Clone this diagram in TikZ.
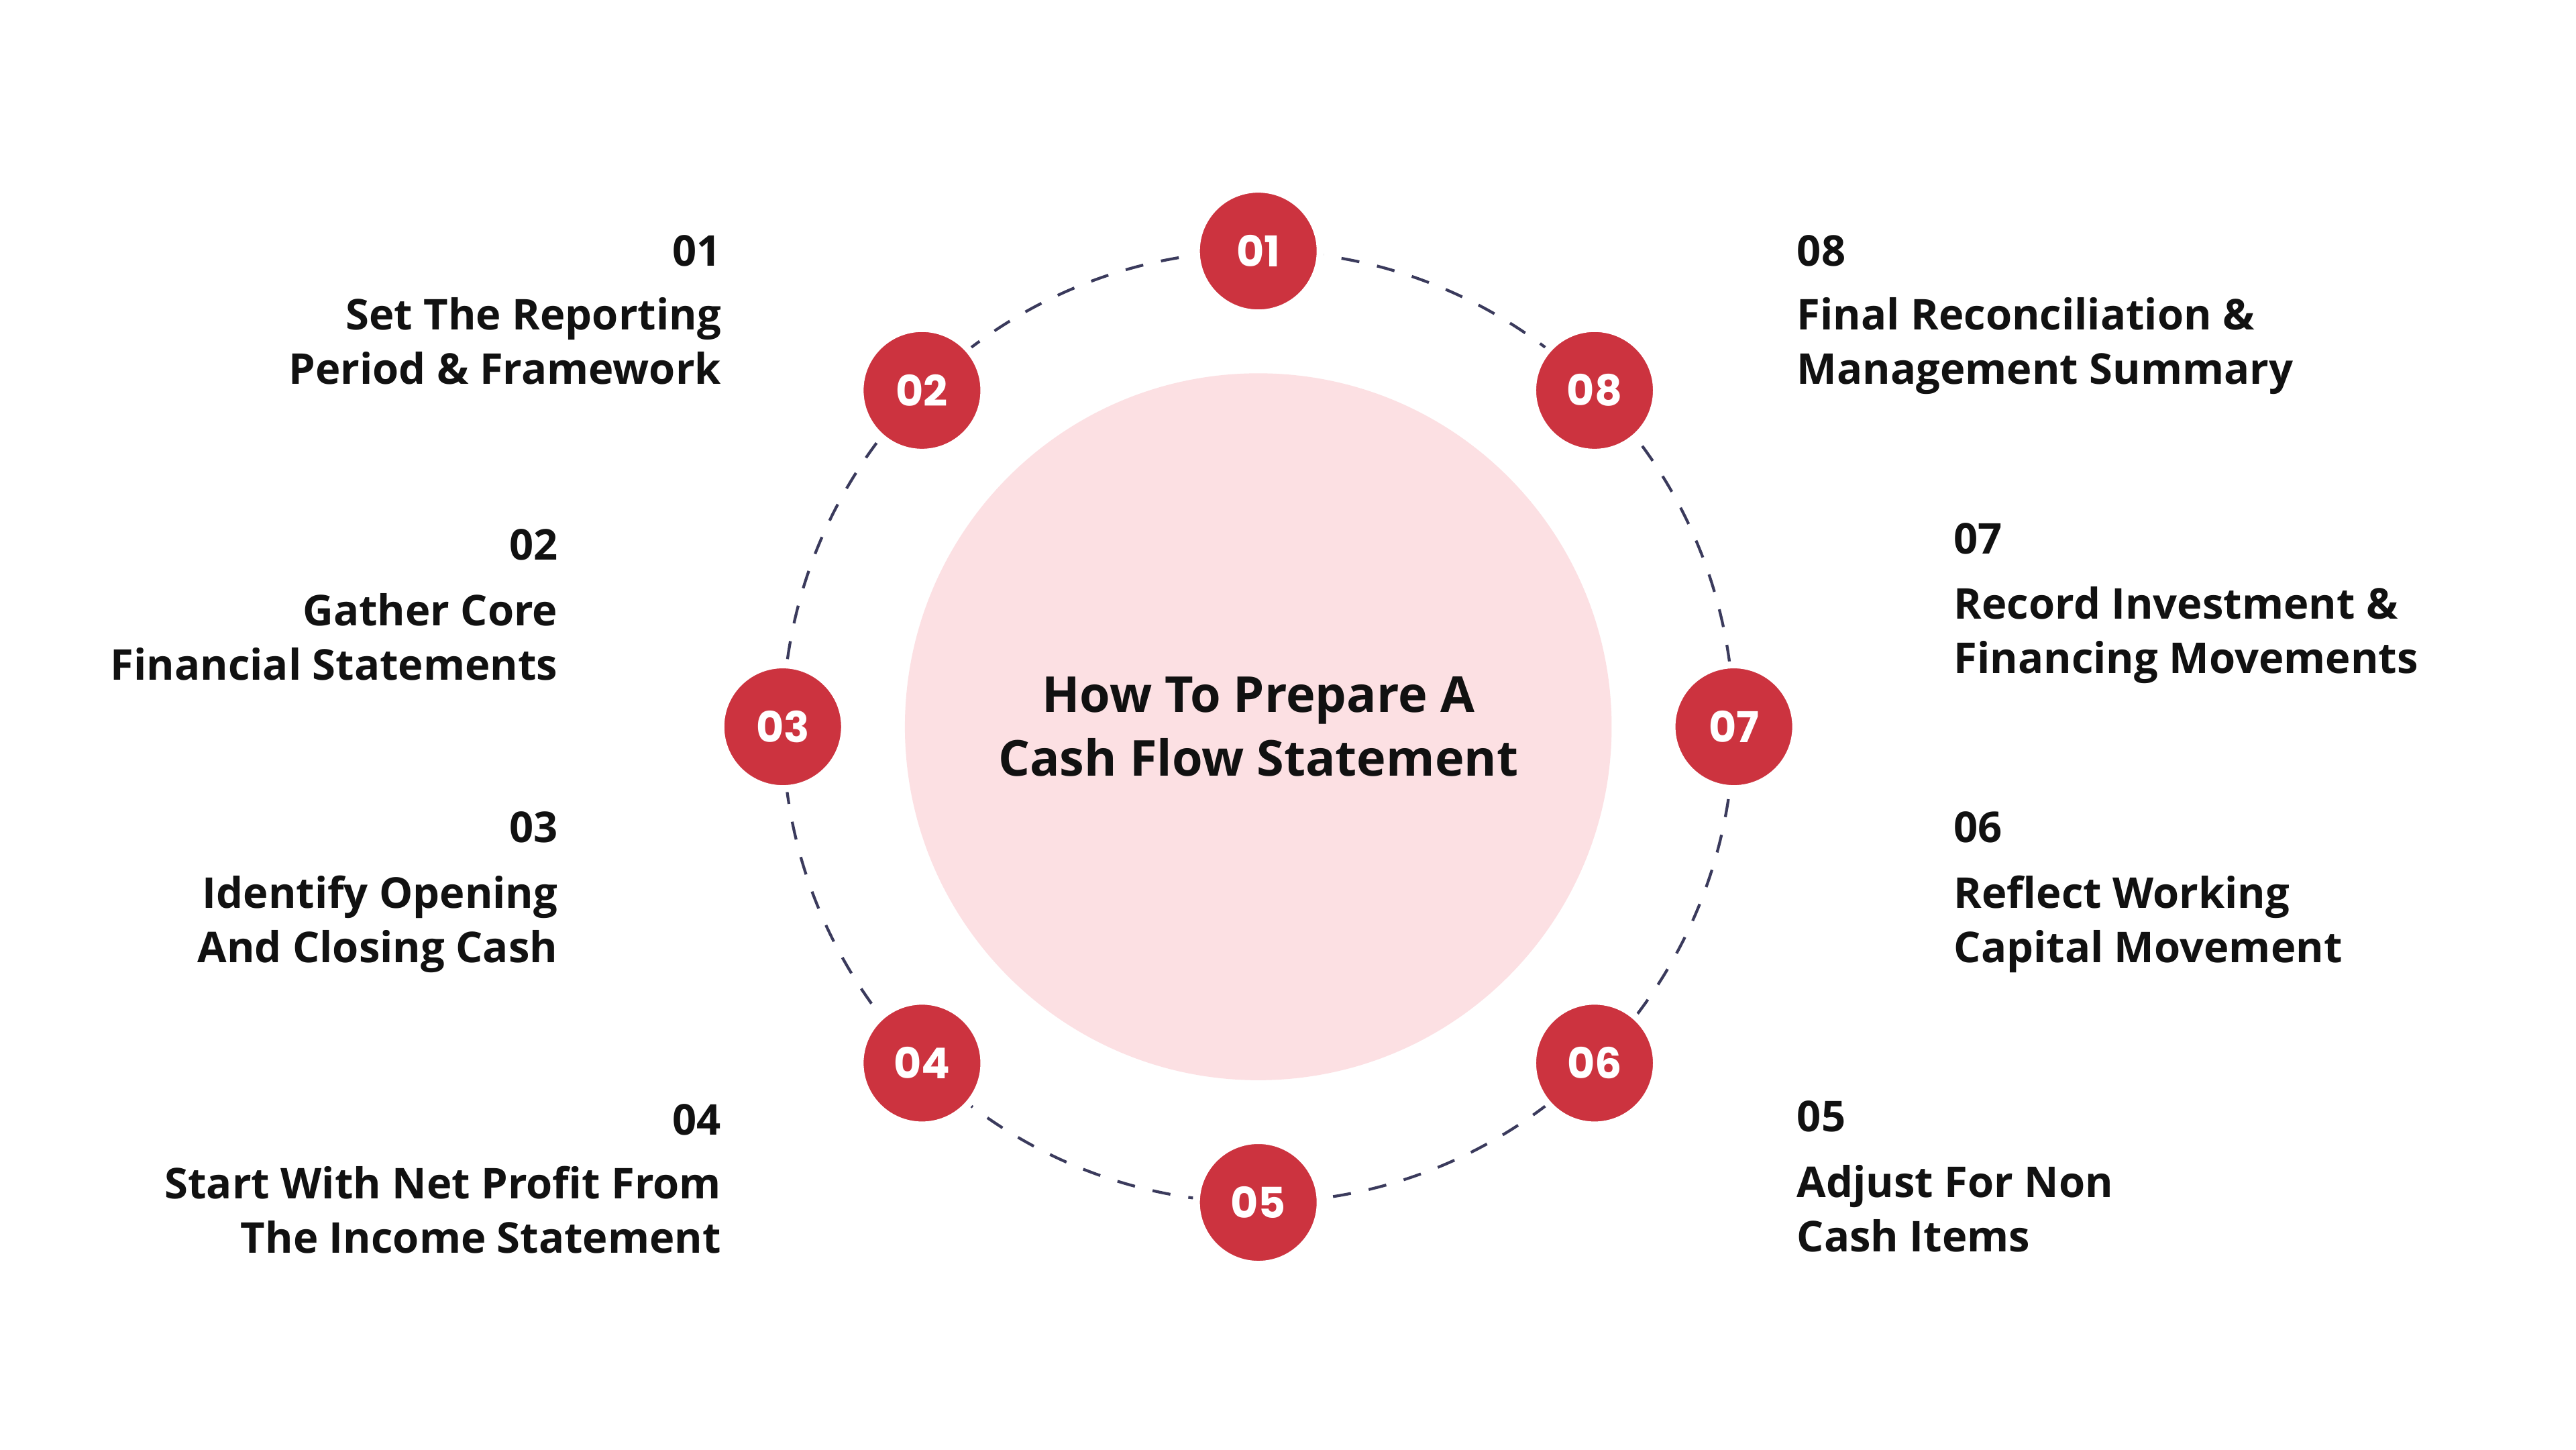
\documentclass[tikz,border=0pt]{standalone}
\usepackage{fontspec}
\usetikzlibrary{calc}
\setmainfont{Open Sans}
\newfontfamily\numfont{Poppins}
\definecolor{cred}{HTML}{CC333F}
\definecolor{cpink}{HTML}{FCE0E3}
\definecolor{cdash}{HTML}{3A3A5C}
\definecolor{ctext}{HTML}{111111}
\newlength\px
\setlength\px{0.024615cm}
\tikzset{
  stepnum/.style={circle,fill=cred,draw=white,line width=3pt,minimum size=75\px,inner sep=0pt,text=white,font=\numfont\bfseries\fontsize{18}{18}\selectfont},
  lbl/.style={inner sep=0pt,text=ctext,font=\bfseries\fontsize{18}{23}\selectfont},
  lnum/.style={inner sep=0pt,text=ctext,font=\bfseries\fontsize{18}{23}\selectfont}
}
\begin{document}
\begin{tikzpicture}[x=0.024615cm,y=-0.024615cm]
\useasboundingbox[fill=white] (0,0) rectangle (1560,877.5);
\fill[cpink] (762,440) circle (214);
\node[align=center,inner sep=0pt,text=ctext,font=\bfseries\fontsize{21}{27}\selectfont] (title) at (762,440) {How To Prepare A\\Cash Flow Statement};
\draw[cdash,line width=1.2pt,dash pattern=on 11\px off 11\px] (762,440) circle (288);
\foreach \n/\a in {01/90,02/135,03/180,04/225,05/270,06/315,07/0,08/45}{
  \node[stepnum] (s\n) at ($(762,440)+({288*cos(\a)},{-288*sin(\a)})$) {\n};
}
% left labels
\node[lnum,anchor=east] (n01) at (437,152) {01};
\node[lbl,anchor=north east,align=right] (t01) at (437,180) {Set The Reporting\\Period \& Framework};
\node[lnum,anchor=east] (n02) at (338,330) {02};
\node[lbl,anchor=north east,align=right] (t02) at (338,359) {Gather Core\\Financial Statements};
\node[lnum,anchor=east] (n03) at (338,501) {03};
\node[lbl,anchor=north east,align=right] (t03) at (338,530) {Identify Opening\\And Closing Cash};
\node[lnum,anchor=east] (n04) at (437,678) {04};
\node[lbl,anchor=north east,align=right] (t04) at (437,706) {Start With Net Profit From\\The Income Statement};
% right labels
\node[lnum,anchor=west] (n08) at (1088,152) {08};
\node[lbl,anchor=north west,align=left] (t08) at (1088,180) {Final Reconciliation \&\\Management Summary};
\node[lnum,anchor=west] (n07) at (1183,326) {07};
\node[lbl,anchor=north west,align=left] (t07) at (1183,355) {Record Investment \&\\Financing Movements};
\node[lnum,anchor=west] (n06) at (1183,501) {06};
\node[lbl,anchor=north west,align=left] (t06) at (1183,530) {Reflect Working\\Capital Movement};
\node[lnum,anchor=west] (n05) at (1088,676) {05};
\node[lbl,anchor=north west,align=left] (t05) at (1088,705) {Adjust For Non\\Cash Items};
\end{tikzpicture}
\end{document}
